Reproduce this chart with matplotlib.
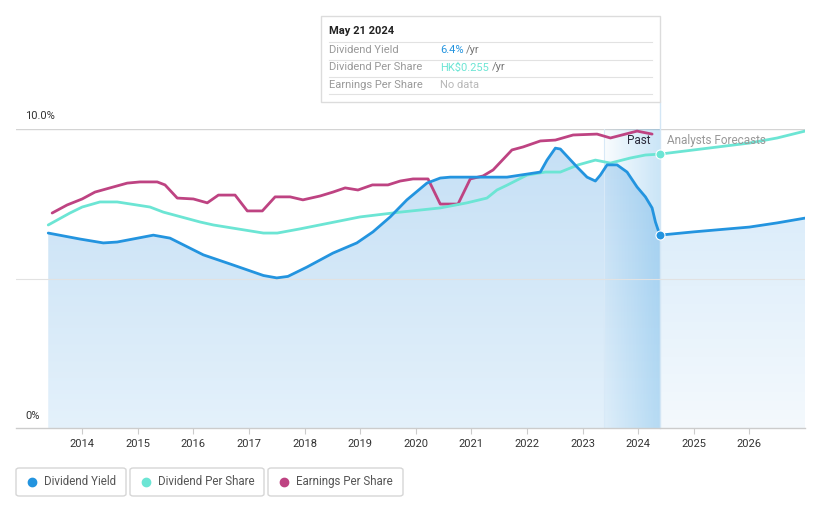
import numpy as np
import matplotlib
matplotlib.use("Agg")
import matplotlib.pyplot as plt
from matplotlib.patches import Polygon, Rectangle, FancyBboxPatch
from matplotlib.colors import LinearSegmentedColormap
from matplotlib.lines import Line2D

plt.rcParams['font.family'] = ['Roboto', 'DejaVu Sans']

# ---------------- data ----------------
yield_years = [2013.39, 2013.96, 2014.38, 2014.63, 2015.28, 2015.58, 2016.18, 2016.67,
               2017.26, 2017.50, 2017.70, 2018.04, 2018.51, 2018.94, 2019.23, 2019.54,
               2019.84, 2020.20, 2020.44, 2020.62, 2021.64, 2022.24, 2022.36, 2022.51,
               2022.60, 2022.90, 2023.08, 2023.23, 2023.32, 2023.44, 2023.62, 2023.80,
               2023.98, 2024.13, 2024.25, 2024.31, 2024.39]
yield_vals = [6.52, 6.32, 6.19, 6.22, 6.45, 6.35, 5.79, 5.48,
              5.10, 5.02, 5.07, 5.38, 5.85, 6.19, 6.56, 7.06,
              7.63, 8.19, 8.36, 8.39, 8.39, 8.56, 8.96, 9.36,
              9.33, 8.73, 8.39, 8.26, 8.46, 8.80, 8.80, 8.56,
              8.06, 7.73, 7.36, 6.89, 6.45]
yield_fc_years = [2024.39, 2025.0, 2026.0, 2026.5, 2027.0]
yield_fc_vals = [6.45, 6.56, 6.72, 6.86, 7.02]

dps_years = [2013.39, 2013.78, 2014.0, 2014.32, 2014.63, 2015.22, 2015.46, 2016.12,
             2016.36, 2017.26, 2017.51, 2017.92, 2018.46, 2019.0, 2019.72, 2020.44,
             2020.92, 2021.28, 2021.46, 2021.64, 2022.0, 2022.33, 2022.6, 2022.92,
             2023.23, 2023.5, 2023.86, 2024.13, 2024.39]
dps_vals = [6.79, 7.19, 7.39, 7.56, 7.56, 7.39, 7.22, 6.89,
            6.79, 6.52, 6.52, 6.66, 6.86, 7.06, 7.22, 7.36,
            7.53, 7.69, 7.96, 8.12, 8.46, 8.56, 8.56, 8.80,
            8.96, 8.86, 9.03, 9.13, 9.16]
dps_fc_years = [2024.39, 2025.0, 2026.0, 2026.5, 2027.0]
dps_fc_vals = [9.16, 9.30, 9.53, 9.70, 9.93]

eps_years = [2013.46, 2013.73, 2014.0, 2014.23, 2014.5, 2014.81, 2015.04, 2015.35,
             2015.49, 2015.71, 2016.0, 2016.25, 2016.45, 2016.75, 2016.97, 2017.24,
             2017.47, 2017.74, 2017.97, 2018.28, 2018.51, 2018.73, 2018.96, 2019.22,
             2019.5, 2019.72, 2019.95, 2020.22, 2020.44, 2020.76, 2020.98, 2021.21,
             2021.39, 2021.73, 2021.93, 2022.24, 2022.51, 2022.83, 2023.26, 2023.5,
             2023.98, 2024.25]
eps_vals = [7.19, 7.46, 7.66, 7.89, 8.03, 8.19, 8.23, 8.23,
            8.13, 7.69, 7.66, 7.53, 7.79, 7.79, 7.26, 7.26,
            7.73, 7.73, 7.63, 7.76, 7.89, 8.03, 7.96, 8.13,
            8.13, 8.26, 8.33, 8.33, 7.49, 7.49, 8.33, 8.43,
            8.63, 9.30, 9.40, 9.60, 9.63, 9.80, 9.83, 9.70,
            9.93, 9.83]

year_ticks = list(range(2014, 2027))
past_start, past_end = 2023.39, 2024.39
x_min, x_max = 2012.81, 2027.0
y_min, y_max = 0, 10

BLUE = "#2394DF"
TEAL = "#6CE5D4"
MAG = "#BE4382"

W, H = 821, 508
fig = plt.figure(figsize=(W / 100, H / 100), dpi=100)
ax = fig.add_axes([16 / W, (H - 428) / H, 789 / W, 299 / H])
ax.set_facecolor("white")


def gradient_fill(xs, ys, c_bottom, c_top, top, z):
    verts = [(xs[0], 0)] + list(zip(xs, ys)) + [(xs[-1], 0)]
    poly = Polygon(verts, closed=True, facecolor="none", edgecolor="none")
    ax.add_patch(poly)
    cm = LinearSegmentedColormap.from_list("g", [c_bottom, c_top])
    grad = np.linspace(0, 1, 256).reshape(-1, 1)
    im = ax.imshow(grad, extent=[xs[0], xs[-1], 0, top], aspect="auto",
                   cmap=cm, origin="lower", zorder=z, interpolation="bilinear")
    im.set_clip_path(poly)


gradient_fill(yield_years, yield_vals, "#e4f1fb", "#c4dff5", 10, 1)
gradient_fill(yield_fc_years, yield_fc_vals, "#f4f9fd", "#dcedfa", 7.1, 1)

# past band gradient
cmap_band = LinearSegmentedColormap.from_list(
    "b", [(0.137, 0.58, 0.874, 0.03), (0.137, 0.58, 0.874, 0.24)])
gx = np.linspace(0, 1, 256).reshape(1, -1)
ax.imshow(gx, extent=[past_start, past_end, 0, 10], aspect="auto", cmap=cmap_band,
          origin="lower", zorder=2, interpolation="bilinear")
ax.plot([past_start, past_start], [0, 10], color="#d8e9f7", lw=0.8, zorder=2)
ax.plot([past_end, past_end], [0, 10.9], color="#d3e6f5", lw=1.0, zorder=2, clip_on=False)

# gridlines
ax.axhline(10, color="#d4d4d4", lw=1.0, zorder=0.5)
ax.axhline(5, color="#e2e2e2", lw=0.8, zorder=2.5)

# lines
lw = 2.0
ax.plot(eps_years, eps_vals, color=MAG, lw=lw, zorder=4, solid_capstyle="round", solid_joinstyle="round")
ax.plot(dps_years, dps_vals, color=TEAL, lw=lw, zorder=4, solid_capstyle="round", solid_joinstyle="round")
ax.plot(dps_fc_years, dps_fc_vals, color=TEAL, lw=lw, zorder=4, solid_capstyle="round")
ax.plot(yield_years, yield_vals, color=BLUE, lw=lw, zorder=5, solid_capstyle="round", solid_joinstyle="round")
ax.plot(yield_fc_years, yield_fc_vals, color=BLUE, lw=lw, zorder=5, solid_capstyle="round")
ax.plot([yield_years[-1]], [yield_vals[-1]], "o", color=BLUE, ms=6.5, mec="white", mew=0.8, zorder=6)
ax.plot([dps_years[-1]], [dps_vals[-1]], "o", color=TEAL, ms=6.5, mec="white", mew=0.8, zorder=6)

ax.set_xlim(x_min, x_max)
ax.set_ylim(y_min, y_max)

for s in ["top", "right", "left"]:
    ax.spines[s].set_visible(False)
ax.spines["bottom"].set_color("#cccccc")
ax.spines["bottom"].set_linewidth(1.0)
ax.set_yticks([])
ax.set_xticks(year_ticks)
ax.set_xticklabels([str(y) for y in year_ticks], fontsize=8, color="#333333")
ax.tick_params(axis="x", length=4, color="#cccccc", pad=4)

# y labels
ytr = ax.get_yaxis_transform()
ax.text(9 / 789, 10.43, "10.0%", transform=ytr, fontsize=8, color="#333333", va="center", ha="left")
ax.text(9 / 789, 0.40, "0%", transform=ytr, fontsize=8, color="#333333", va="center", ha="left")

# Past / forecast labels
ax.text(past_end - 0.16, 9.6, "Past", fontsize=8.5, color="#2a2a3a", ha="right", va="center", zorder=7)
ax.text(past_end + 0.13, 9.6, "Analysts Forecasts", fontsize=8.5, color="#999999", ha="left", va="center", zorder=7)


# ---------------- tooltip ----------------
def fx(px):
    return px / W


def fy(py):
    return 1 - py / H


fig.add_artist(Rectangle((fx(321), fy(102)), fx(660) - fx(321), fy(16) - fy(102),
                         transform=fig.transFigure, facecolor="white", edgecolor="#dcdcdc", lw=1.0, zorder=10))
for yy in [42, 59.5, 77, 94]:
    fig.add_artist(Line2D([fx(329), fx(652)], [fy(yy), fy(yy)], transform=fig.transFigure,
                          color="#e2e2e2", lw=0.8, zorder=11))
fig.text(fx(329), fy(31.5), "May 21 2024", fontsize=8, color="#222222", fontweight="bold", va="center", zorder=12)
rows = [("Dividend Yield", "6.4%", BLUE, "/yr", 466),
        ("Dividend Per Share", "HK$0.255", TEAL, "/yr", 491.5),
        ("Earnings Per Share", "No data", "#b8b8b8", "", 0)]
for i, (lab, val, col, suf, sx) in enumerate(rows):
    yy = [50, 67.5, 85.5][i]
    fig.text(fx(329), fy(yy), lab, fontsize=8, color="#999999", va="center", zorder=12)
    fig.text(fx(440), fy(yy), val, fontsize=8, color=col, va="center", zorder=12)
    if suf:
        fig.text(fx(sx), fy(yy), suf, fontsize=8, color="#777777", va="center", zorder=12)

# ---------------- legend ----------------
legend_items = [("Dividend Yield", BLUE, 16, 126),
                ("Dividend Per Share", TEAL, 130, 264),
                ("Earnings Per Share", MAG, 268, 403)]
for lab, col, x0, x1 in legend_items:
    fig.add_artist(FancyBboxPatch((fx(x0), fy(496)), fx(x1) - fx(x0), fy(468) - fy(496),
                                  boxstyle="round,pad=0,rounding_size=0.004",
                                  transform=fig.transFigure, facecolor="white",
                                  edgecolor="#d6d6d6", lw=1.0))
    fig.add_artist(Line2D([fx(x0 + 16)], [fy(481.5)], marker="o", ms=6, color=col,
                          transform=fig.transFigure, lw=0))
    fig.text(fx(x0 + 28), fy(481.5), lab, fontsize=8.3, color="#555555", va="center")

fig.savefig("out.png", dpi=100, facecolor="white")
